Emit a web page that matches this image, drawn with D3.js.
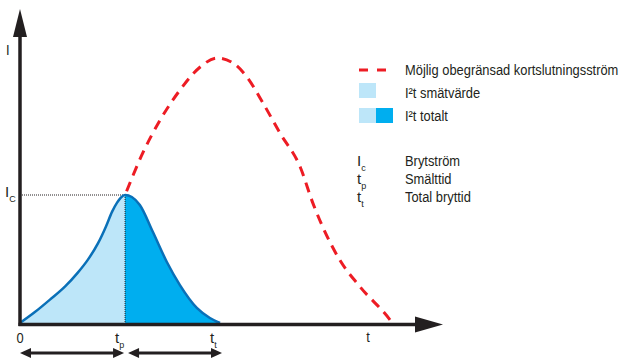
<!DOCTYPE html>
<html>
<head>
<meta charset="utf-8">
<script src="https://cdn.jsdelivr.net/npm/d3@7"></script>
<style>
  body { margin: 0; background: #fff; }
  svg { display: block; font-family: "Liberation Sans", Arial, sans-serif; }
</style>
</head>
<body>
<div id="chart"></div>
<script>
'use strict';

// time in ms (0..10 along the axis), current in % of the prospective peak
const blueCurve = [
  [0, 0], [0.36, 4.2], [0.71, 8.8], [1.07, 13.8], [1.37, 19.0], [1.61, 23.9],
  [1.85, 30.1], [2.04, 36.5], [2.18, 41.9], [2.30, 45.4], [2.39, 47.3], [2.49, 48.25],
  [2.65, 47.5], [2.84, 44.5], [3.15, 34.3], [3.48, 23.0], [3.79, 14.3],
  [4.19, 5.7], [4.50, 1.9], [4.74, 0]
];
const redCurve = [
  [2.49, 48.25], [2.91, 64.1], [3.32, 76.5], [3.79, 87.8], [4.27, 96.5], [4.67, 99.9],
  [5.05, 98.0], [5.38, 92.7], [5.76, 82.9], [6.16, 71.6], [6.64, 58.8], [6.94, 45.2],
  [7.58, 23.7], [8.06, 13.6], [8.77, 1.1], [8.82, 0]
];
const tp = 2.49, tt = 4.74, Ic = 48.25;

const axisLabels = {y: "I", x: "t", origin: "0"};
const tickLabels = [{main: "t", sub: "p", t: tp}, {main: "t", sub: "t", t: tt}];
const legendItems = ["Möjlig obegränsad kortslutningsström", "I²t smätvärde", "I²t totalt"];
const symbolItems = [["I", "c", "Brytström"], ["t", "p", "Smälttid"], ["t", "t", "Total bryttid"]];

const W = 625, H = 358;
const ink = "#231f20", lightBlue = "#bde6f9", darkBlue = "#00aeef", lineBlue = "#0a70b8", red = "#ed1c24";

const x = d3.scaleLinear().domain([0, 10]).range([20, 442]);
const y = d3.scaleLinear().domain([0, 118]).range([323, 10]);

const svg = d3.select("#chart").append("svg").attr("width", W).attr("height", H);
const defs = svg.append("defs");

defs.append("clipPath").attr("id", "clipPre").append("rect")
  .attr("x", x(0)).attr("y", 0).attr("width", x(tp) - x(0)).attr("height", H);
defs.append("clipPath").attr("id", "clipPost").append("rect")
  .attr("x", x(tp)).attr("y", 0).attr("width", x(tt) - x(tp) + 5).attr("height", H);

const curve = d3.curveMonotoneX;
const area = d3.area().x(d => x(d[0])).y0(y(0)).y1(d => y(d[1])).curve(curve);
const line = d3.line().x(d => x(d[0])).y(d => y(d[1])).curve(curve);

// I2t areas
svg.append("path").datum(blueCurve).attr("d", area).attr("fill", lightBlue).attr("clip-path", "url(#clipPre)");
svg.append("path").datum(blueCurve).attr("d", area).attr("fill", darkBlue).attr("clip-path", "url(#clipPost)");

// dotted guides to the cut-off point
svg.append("line")
  .attr("x1", x(0)).attr("x2", x(tp)).attr("y1", y(Ic)).attr("y2", y(Ic))
  .attr("stroke", ink).attr("stroke-width", 1).attr("stroke-dasharray", "1,1");
svg.append("line")
  .attr("x1", x(tp)).attr("x2", x(tp)).attr("y1", y(Ic)).attr("y2", y(0))
  .attr("stroke", ink).attr("stroke-width", 1).attr("stroke-dasharray", "1,1");

// prospective current
svg.append("path").datum(redCurve).attr("d", line)
  .attr("fill", "none").attr("stroke", red).attr("stroke-width", 3)
  .attr("stroke-dasharray", "10,7").attr("stroke-dashoffset", -4);

// let-through current
svg.append("path").datum(blueCurve).attr("d", line)
  .attr("fill", "none").attr("stroke", lineBlue).attr("stroke-width", 2.5).attr("stroke-linejoin", "round");

// axes with arrow heads
svg.append("line").attr("x1", x(0)).attr("x2", x(0)).attr("y1", y(0) + 3).attr("y2", 35)
  .attr("stroke", ink).attr("stroke-width", 3.5);
svg.append("path").attr("d", `M${x(0)},9 L${x(0) - 7},37 L${x(0) + 7},37 Z`).attr("fill", ink);

svg.append("line").attr("x1", x(0) - 1.5).attr("x2", 418).attr("y1", y(0) + 1.5).attr("y2", y(0) + 1.5)
  .attr("stroke", ink).attr("stroke-width", 3.5);
svg.append("path").attr("d", `M443,${y(0) + 1.5} L415,${y(0) - 6.5} L415,${y(0) + 9.5} Z`).attr("fill", ink);

// double arrows under the time axis
function dblArrow(x1, x2, yy){
  svg.append("line").attr("x1", x1 + 6).attr("x2", x2 - 6).attr("y1", yy).attr("y2", yy)
    .attr("stroke", ink).attr("stroke-width", 3);
  svg.append("path").attr("d", `M${x1},${yy} L${x1 + 11},${yy - 5} L${x1 + 11},${yy + 5} Z`).attr("fill", ink);
  svg.append("path").attr("d", `M${x2},${yy} L${x2 - 11},${yy - 5} L${x2 - 11},${yy + 5} Z`).attr("fill", ink);
}
dblArrow(x(0), x(tp) - 1, 353);
dblArrow(x(tp) + 3, x(tt) + 2, 353);

// the original uses a condensed face, so squeeze the texts horizontally
const fs = 15, subFs = 9, squeeze = 0.86;
function plainText(px, py, str, anchor){
  return svg.append("text")
    .attr("transform", `translate(${px},${py}) scale(${squeeze},1)`)
    .attr("font-size", fs).attr("fill", ink)
    .attr("text-anchor", anchor || "start").text(str);
}
function subText(px, py, main, sub){
  const t = svg.append("text").attr("x", px).attr("y", py).attr("font-size", fs).attr("fill", ink);
  t.append("tspan").text(main);
  t.append("tspan").attr("font-size", subFs).attr("dy", 5).text(sub);
  return t;
}

plainText(6, 55, axisLabels.y);
subText(5, 197, "I", "C");
plainText(x(0), 343, axisLabels.origin, "middle");
plainText(368, 342, axisLabels.x, "middle");
tickLabels.forEach(d => subText(x(d.t) - 10, 343, d.main, d.sub));

// legend
const lx = 359, tx = 405;
const legendY = [75, 98, 121];
svg.append("line").attr("x1", lx).attr("x2", lx + 27).attr("y1", legendY[0] - 5).attr("y2", legendY[0] - 5)
  .attr("stroke", red).attr("stroke-width", 3).attr("stroke-dasharray", "9,9");
svg.append("rect").attr("x", lx).attr("y", 83).attr("width", 17).attr("height", 15).attr("fill", lightBlue);
svg.append("rect").attr("x", lx).attr("y", 108).attr("width", 17).attr("height", 15).attr("fill", lightBlue);
svg.append("rect").attr("x", lx + 17).attr("y", 108).attr("width", 17).attr("height", 15).attr("fill", darkBlue);
legendItems.forEach((d, i) => plainText(tx, legendY[i], d));

const symY = [166, 184, 202];
symbolItems.forEach((d, i) => {
  subText(357, symY[i], d[0], d[1]);
  plainText(tx, symY[i], d[2]);
});
</script>
</body>
</html>
